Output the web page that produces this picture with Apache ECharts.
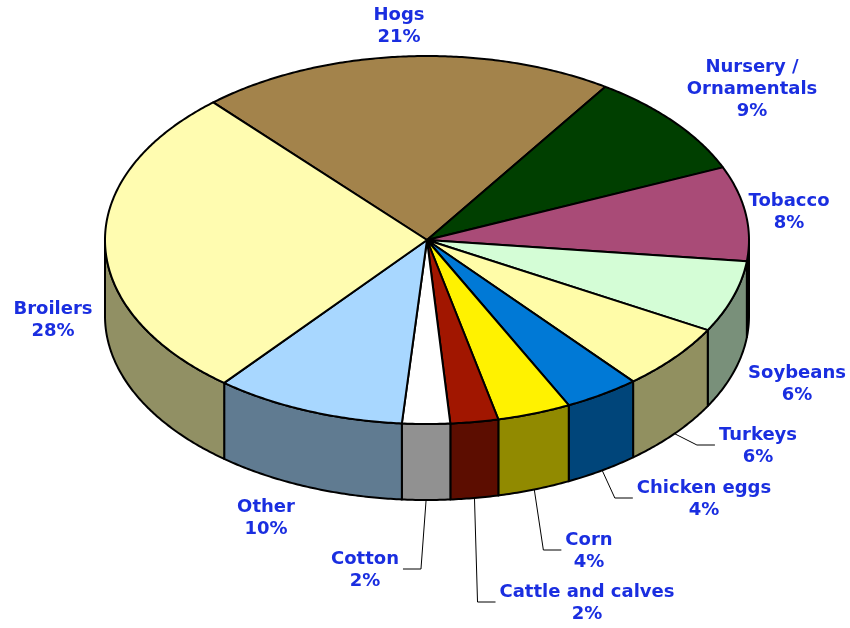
<!DOCTYPE html>
<html>
<head>
<meta charset="utf-8">
<title>Farm cash receipts</title>
<script src="https://cdn.jsdelivr.net/npm/echarts@6/dist/echarts.min.js"></script>
<style>
html,body{margin:0;padding:0;background:#fff;}
#chart{width:850px;height:628px;}
</style>
</head>
<body>
<div id="chart"></div>
<script>
var categories = ['Hogs', 'Nursery /\nOrnamentals', 'Tobacco', 'Soybeans', 'Turkeys', 'Chicken eggs',
    'Corn', 'Cattle and calves', 'Cotton', 'Other', 'Broilers'];
var shares = [20.9, 9.2, 8.3, 6.3, 5.8, 3.8, 3.7, 2.4, 2.4, 9.6, 27.6];
var topColors = ['#a3834b', '#003f00', '#a94b77', '#d4fdd6', '#fffca8', '#0079d6',
    '#fff200', '#a11600', '#ffffff', '#a8d7ff', '#fffcb0'];
// label centres (first line) and which labels get a leader line
var labelPos = [[399, 15], [752, 67], [789, 201], [797, 373], [758, 435], [704, 488],
    [589, 540], [587, 592], [365, 559], [266, 507], [53, 309]];
var hasLeader = [false, false, false, false, true, true, true, true, true, false, false];

(function(){
    var cx = 427, cy = 240, rx = 322, ry = 184, depth = 76,
        startDeg = -41.6,
        font = 'bold 18px "DejaVu Sans"',
        textColor = '#1a2ee0',
        total = shares.reduce(function(a, b){ return a + b; }, 0),
        angles = [],
        acc = startDeg;

    shares.forEach(function(v){
        var a0 = acc;
        acc += v / total * 360;
        angles.push([a0, acc]);
    });

    function pt(t, dy){
        var r = t * Math.PI / 180;
        return [cx + rx * Math.sin(r), cy - ry * Math.cos(r) + (dy || 0)];
    }
    function arc(t1, t2, dy){
        var pts = [], n = Math.max(2, Math.ceil(Math.abs(t2 - t1) / 0.5));
        for(var i = 0; i <= n; i++){
            pts.push(pt(t1 + (t2 - t1) * i / n, dy));
        }
        return pts;
    }
    function darken(hex, f){
        var c = parseInt(hex.slice(1), 16),
            r = Math.round((c >> 16 & 255) * f),
            g = Math.round((c >> 8 & 255) * f),
            b = Math.round((c & 255) * f);
        return 'rgb(' + r + ',' + g + ',' + b + ')';
    }
    var ctx = document.createElement('canvas').getContext('2d');
    ctx.font = font;

    function renderSide(params){
        var i = params.dataIndex, a = angles[i],
            t1 = Math.max(a[0], 90), t2 = Math.min(a[1], 270);
        if(t2 <= t1){
            return {type: 'group', children: []};
        }
        return {
            type: 'polygon',
            shape: {points: arc(t1, t2, 0).concat(arc(t2, t1, depth))},
            style: {fill: darken(topColors[i], 0.57), stroke: '#000', lineWidth: 2, lineJoin: 'round'}
        };
    }
    function renderTop(params){
        var i = params.dataIndex, a = angles[i];
        return {
            type: 'polygon',
            shape: {points: [[cx, cy]].concat(arc(a[0], a[1], 0))},
            style: {fill: topColors[i], stroke: '#000', lineWidth: 2, lineJoin: 'round'}
        };
    }
    function renderLabel(params){
        var i = params.dataIndex, a = angles[i],
            p = labelPos[i],
            text = categories[i] + '\n' + Math.round(shares[i]) + '%',
            children = [{
                type: 'text',
                style: {
                    text: text, x: p[0], y: p[1] - 11, fill: textColor,
                    font: font, align: 'center', verticalAlign: 'top', lineHeight: 22
                }
            }];
        if(hasLeader[i]){
            var start = pt((a[0] + a[1]) / 2, depth),
                w = ctx.measureText(categories[i].split('\n')[0]).width,
                ly = p[1] + 10,
                edge, elbow;
            if(p[0] > start[0]){
                edge = p[0] - w / 2 - 4;
                elbow = edge - 18;
            }else{
                edge = p[0] + w / 2 + 4;
                elbow = edge + 18;
            }
            children.push({
                type: 'polyline',
                shape: {points: [start, [elbow, ly], [edge, ly]]},
                style: {stroke: '#000', lineWidth: 1, fill: null}
            });
        }
        return {type: 'group', children: children};
    }

    var chart = echarts.init(document.getElementById('chart'));
    chart.setOption({
        animation: false,
        backgroundColor: '#fff',
        series: [
            {type: 'custom', name: 'side', coordinateSystem: 'none', silent: true, z: 1, data: shares, renderItem: renderSide},
            {type: 'custom', name: 'top', coordinateSystem: 'none', silent: true, z: 2, data: shares, renderItem: renderTop},
            {type: 'custom', name: 'label', coordinateSystem: 'none', silent: true, z: 3, data: shares, renderItem: renderLabel}
        ]
    });
})();
</script>
</body>
</html>
